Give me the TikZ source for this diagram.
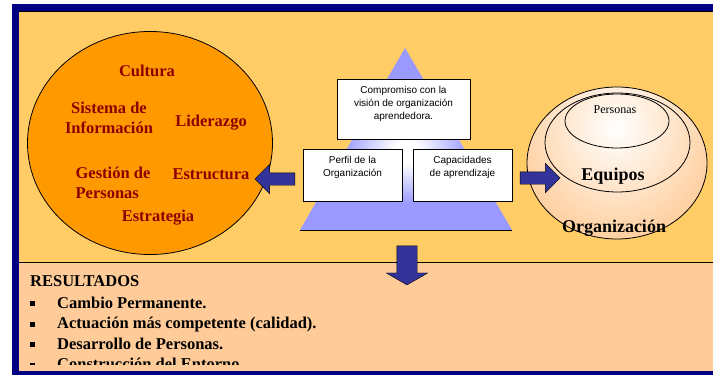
\documentclass[tikz,border=0pt]{standalone}
\usepackage{fontspec}
\setmainfont{Liberation Serif}
\newfontfamily\boxfont{Liberation Sans}
\usetikzlibrary{shapes.geometric, shapes.arrows}

\definecolor{framenavy}{RGB}{0,0,128}
\definecolor{upperbg}{RGB}{255,204,102}
\definecolor{lowerbg}{RGB}{255,204,153}
\definecolor{circorange}{RGB}{255,153,0}
\definecolor{factorred}{RGB}{140,0,0}
\definecolor{pyrblue}{RGB}{153,153,255}
\definecolor{arrowblue}{RGB}{51,51,153}
\definecolor{spherepeach}{RGB}{255,204,153}

\pgfdeclareradialshading{pyrglow}{\pgfpoint{0bp}{-4bp}}{color(0bp)=(white); color(3bp)=(white); color(15bp)=(pyrblue); color(50bp)=(pyrblue)}

\tikzset{
  factor/.style={font=\fontsize{16.5}{20}\selectfont\bfseries, text=factorred, inner sep=0pt},
  infobox/.style={rectangle, draw=black, thick, fill=white, inner xsep=3pt, inner ysep=7pt, font=\boxfont\fontsize{10}{13}\selectfont},
  blockarrow/.style={single arrow, draw=black, fill=arrowblue, inner sep=0pt, single arrow tip angle=90},
  ring/.style={ellipse, draw=black, thick, inner sep=0pt},
}

\newcommand{\resbullet}{\makebox[27pt][l]{\rule[2pt]{5pt}{5pt}}}

\begin{document}
\begin{tikzpicture}[x=1pt, y=-1pt]
\useasboundingbox (0,0) rectangle (713,375);
% fondos y marco
\fill[upperbg] (19,11) rectangle (713,262);
\fill[lowerbg] (19,262) rectangle (713,371);
\draw[black] (19,262) -- (713,262);
\fill[framenavy] (12,4) rectangle (713,11);
\fill[framenavy] (12,4) rectangle (19,375);
\fill[framenavy] (12,371) rectangle (713,375);
\draw[black] (19,11.5) -- (713,11.5);

% circulo de factores
\node[ellipse, draw=black, thick, fill=circorange, minimum width=245pt, minimum height=223pt, inner sep=0pt] (factores) at (150,143) {};
\node[factor] (cultura) at (147,71) {Cultura};
\node[factor, align=center] (sistema) at (109,118) {Sistema de\\Información};
\node[factor] (liderazgo) at (211,123) {Liderazgo};
\node[factor, align=left] (gestion) at (113,183) {Gestión de\\Personas};
\node[factor] (estructura) at (211,174) {Estructura};
\node[factor] (estrategia) at (158,218) {Estrategia};

% piramide
\coordinate (apex) at (405,48);
\coordinate (pyrleft) at (300,230);
\coordinate (pyrright) at (512,230);
\shade[shading=pyrglow] (apex) -- (pyrright) -- (pyrleft) -- cycle;
\draw (pyrleft) -- (pyrright);

\node[infobox] (vision) at (403.5,109) {\parbox[t][46pt][t]{127pt}{\centering Compromiso con la\\visión de organización\\aprendedora.}};
\node[infobox] (perfil) at (352.5,175) {\parbox[t][38pt][t]{93pt}{\centering Perfil de la\\Organización}};
\node[infobox] (capacidades) at (462.5,175) {\parbox[t][38pt][t]{93pt}{\centering Capacidades\\de aprendizaje}};

% esfera organizacion / equipos / personas
\fill[spherepeach] (617,163) ellipse [x radius=90, y radius=76];
\begin{scope}
  \clip (617,163) ellipse [x radius=90, y radius=76];
  \shade[inner color=white, outer color=spherepeach] (616,128) ellipse [x radius=110, y radius=120];
\end{scope}
\node[ring, minimum width=180pt, minimum height=152pt] (orgring) at (617,163) {};
\node[ring, minimum width=145pt, minimum height=99pt] (equiporing) at (617.5,142.5) {};
\node[ring, minimum width=104pt, minimum height=54pt] (personaring) at (617,121) {};
\node[font=\fontsize{12}{14}\selectfont] (personas) at (615,110) {Personas};
\node[font=\fontsize{18}{20}\selectfont\bfseries] (equipos) at (613,176) {Equipos};
\node[font=\fontsize{18}{20}\selectfont\bfseries] (organizacion) at (614,228) {Organización};

% flechas
\node[blockarrow, shape border rotate=180, minimum height=40pt, minimum width=29pt, text height=6pt, text depth=6pt, single arrow head extend=8.5pt] (haciafactores) at (278,179) {};
\node[blockarrow, minimum height=40pt, minimum width=29pt, text height=6pt, text depth=6pt, single arrow head extend=8.5pt] (haciaesfera) at (537,178) {};
\node[blockarrow, shape border rotate=270, minimum height=39pt, minimum width=41pt, text height=1pt, text depth=0pt, single arrow head extend=10.5pt, single arrow tip angle=120] (haciaresultados) at (407,262.5) {\hspace*{20pt}};

% resultados
\begin{scope}
  \clip (19,262) rectangle (713,364);
  \node[anchor=north west, inner sep=0pt, align=left, font=\fontsize{16.5}{20.5}\selectfont\bfseries] (resultados) at (30,275) {RESULTADOS\\[1.5pt]
    \resbullet Cambio Permanente.\\
    \resbullet Actuación más competente (calidad).\\
    \resbullet Desarrollo de Personas.\\
    \resbullet Construcción del Entorno.};
\end{scope}
\end{tikzpicture}
\end{document}
